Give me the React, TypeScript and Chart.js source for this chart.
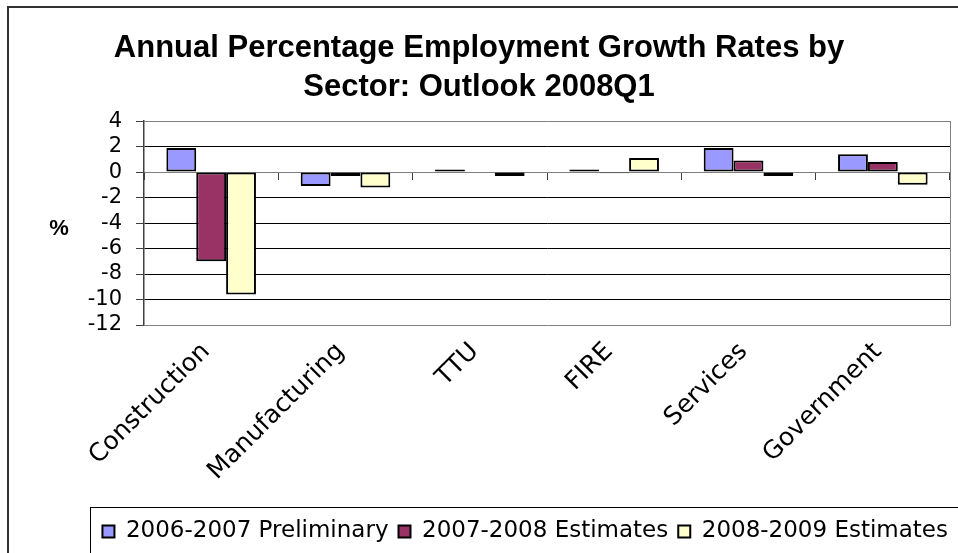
import React, { useEffect, useRef } from 'react';
import { Chart, registerables } from 'chart.js';

Chart.register(...registerables);

const titleLines = ['Annual Percentage Employment Growth Rates by', 'Sector: Outlook 2008Q1'];
const categories = ['Construction', 'Manufacturing', 'TTU', 'FIRE', 'Services', 'Government'];
const seriesNames = ['2006-2007 Preliminary', '2007-2008 Estimates', '2008-2009 Estimates'];
const prelim0607 = [1.9, -1.1, 0.2, 0.2, 1.9, 1.4];
const est0708 = [-7.0, -0.3, 0.0, -0.1, 0.9, 0.8];
const est0809 = [-9.6, -1.2, -0.3, 1.1, -0.3, -1.0];
const yTicks = [4, 2, 0, -2, -4, -6, -8, -10, -12];
const yAxisLabel = '%';

const FONT = '"DejaVu Sans", "Liberation Sans", Arial, sans-serif';
const TITLE_FONT = '"Liberation Sans", Arial, sans-serif';

const decorPlugin = {
  id: 'decor',
  afterDraw(chart: any) {
    const { ctx, chartArea, legend } = chart;
    ctx.save();
    ctx.font = 'bold 22px ' + TITLE_FONT;
    ctx.fillStyle = '#000';
    ctx.textAlign = 'center';
    ctx.textBaseline = 'middle';
    ctx.fillText(yAxisLabel, 59, (chartArea.top + chartArea.bottom) / 2 + 6);
    const hb = legend && legend.legendHitBoxes;
    if (hb && hb.length) {
      const left = Math.round(hb[0].left - 12) + 0.5;
      const top = Math.round(legend.top - 3) + 0.5;
      ctx.strokeStyle = '#000';
      ctx.lineWidth = 1;
      ctx.strokeRect(left, top, chart.width, legend.height + 10);
    }
    ctx.restore();
  },
};

export default function App() {
  const ref = useRef<HTMLCanvasElement | null>(null);

  useEffect(() => {
    if (!ref.current) return;
    const edge = (v: number) => v === 0 || v === yTicks[0] || v === yTicks[yTicks.length - 1];
    const chart = new Chart(ref.current, {
      type: 'bar',
      data: {
        labels: categories,
        datasets: [
          { label: seriesNames[0], data: prelim0607, backgroundColor: '#9999FF' },
          { label: seriesNames[1], data: est0708, backgroundColor: '#993366' },
          { label: seriesNames[2], data: est0809, backgroundColor: '#FFFFCC' },
        ].map((d) => ({
          ...d,
          borderColor: '#000',
          borderWidth: 2,
          borderSkipped: false as any,
          categoryPercentage: 0.667,
          barPercentage: 1,
        })),
      },
      options: {
        animation: false,
        responsive: false,
        maintainAspectRatio: false,
        layout: { padding: { left: 0, right: 0, top: 0, bottom: 0 } },
        plugins: {
          title: {
            display: true,
            text: titleLines,
            color: '#000',
            font: { family: TITLE_FONT, size: 31, weight: 'bold', lineHeight: 1.26 },
            padding: { top: 29, bottom: 14 },
          },
          legend: {
            display: true,
            position: 'bottom',
            align: 'end',
            labels: {
              color: '#000',
              boxWidth: 12,
              boxHeight: 12,
              padding: 10,
              font: { family: FONT, size: 23 },
            },
          },
          tooltip: { enabled: false },
        },
        scales: {
          x: {
            type: 'category',
            position: 'bottom',
            grid: { display: false },
            border: { display: false },
            ticks: {
              color: '#000',
              font: { family: FONT, size: 25 },
              maxRotation: 45,
              minRotation: 45,
              padding: 4,
              labelOffset: -5,
              autoSkip: false,
            },
            afterFit: (s: any) => {
              s.height = 553 - 325 - s.chart.legend.height;
            },
          },
          x0: {
            type: 'category',
            position: { y: 0 } as any,
            offset: true,
            grid: {
              display: true,
              offset: true,
              drawOnChartArea: false,
              drawTicks: true,
              tickLength: 7,
              tickColor: '#404040',
              color: '#404040',
            },
            border: { display: true, color: '#808080', width: 1 },
            ticks: { display: false },
          },
          y: {
            type: 'linear',
            position: 'left',
            min: yTicks[yTicks.length - 1],
            max: yTicks[0],
            afterBuildTicks: (s: any) => {
              s.ticks = yTicks.map((v) => ({ value: v }));
            },
            afterFit: (s: any) => {
              s.width = 144;
            },
            grid: {
              color: (c: any) => (c.tick && edge(c.tick.value) ? '#808080' : '#000'),
              lineWidth: 1,
              drawTicks: true,
              tickLength: 8,
              tickColor: '#404040',
            },
            border: { display: true, color: '#404040', width: 1.5 },
            ticks: {
              color: '#000',
              font: { family: FONT, size: 21, lineHeight: 1 },
              padding: 14,
              autoSkip: false,
            },
          },
          yr: {
            type: 'linear',
            position: 'right',
            min: yTicks[yTicks.length - 1],
            max: yTicks[0],
            grid: { display: false },
            ticks: { display: false },
            border: { display: true, color: '#808080', width: 1 },
            afterFit: (s: any) => {
              s.width = 8;
            },
          },
        },
      },
      plugins: [decorPlugin],
    });
    return () => chart.destroy();
  }, []);

  return (
    <div
      style={{
        position: 'absolute',
        left: 0,
        top: 0,
        width: 958,
        height: 553,
        overflow: 'hidden',
        background: '#fff',
      }}
    >
      <div
        style={{
          position: 'absolute',
          left: 7,
          top: 6,
          width: 1200,
          height: 1200,
          borderLeft: '2px solid #333',
          borderTop: '2px solid #333',
          pointerEvents: 'none',
        }}
      />
      <canvas ref={ref} width={958} height={553} style={{ position: 'absolute', left: 0, top: 0 }} />
    </div>
  );
}
